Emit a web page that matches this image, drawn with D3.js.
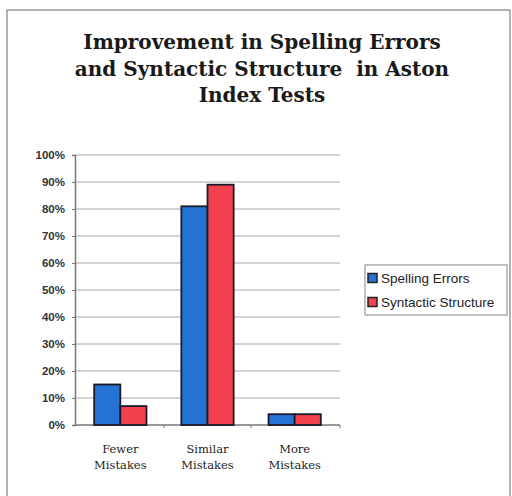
<!DOCTYPE html>
<html>
<head>
<meta charset="utf-8">
<script src="https://cdn.jsdelivr.net/npm/d3@7/dist/d3.min.js"></script>
<style>
  html, body { margin: 0; padding: 0; background: #ffffff; }
  svg { display: block; }
</style>
</head>
<body>
<script>
// Chart data
const categories = [["Fewer", "Mistakes"], ["Similar", "Mistakes"], ["More", "Mistakes"]];
const seriesNames = ["Spelling Errors", "Syntactic Structure"];
const spellingErrors = [15, 81, 4];
const syntacticStructure = [7, 89, 4];
const yTicks = [0, 10, 20, 30, 40, 50, 60, 70, 80, 90, 100];
const titleLines = ["Improvement in Spelling Errors", "and Syntactic Structure  in Aston", "Index Tests"];

const W = 512, H = 496;
const colors = ["#2673d6", "#f2404f"];

const svg = d3.select("body").append("svg").attr("width", W).attr("height", H);

// outer frame
svg.append("rect").attr("x", 7).attr("y", 10).attr("width", 503).attr("height", 500)
  .attr("fill", "none").attr("stroke", "#9a9a9a").attr("stroke-width", 1.5);

// title
svg.append("g").selectAll("text").data(titleLines).join("text")
  .attr("x", 262).attr("y", (d, i) => 49 + i * 26.5)
  .attr("text-anchor", "middle")
  .attr("font-family", "DejaVu Serif").attr("font-weight", "bold")
  .attr("font-size", 20).attr("fill", "#1a1a1a")
  .style("white-space", "pre")
  .text(d => d);

// scales
const plot = { left: 75, right: 340, top: 155, bottom: 425 };
const x0 = d3.scaleBand().domain(d3.range(categories.length))
  .range([plot.left, plot.right]).paddingInner(0.4).paddingOuter(0.22);
const x1 = d3.scaleBand().domain([0, 1]).range([0, x0.bandwidth()]);
const y = d3.scaleLinear().domain([0, 100]).range([plot.bottom, plot.top]);

// gridlines
svg.append("g").selectAll("line").data(yTicks.filter(t => t > 0)).join("line")
  .attr("x1", plot.left).attr("x2", plot.right)
  .attr("y1", d => y(d)).attr("y2", d => y(d))
  .attr("stroke", "#a8a8a8").attr("stroke-width", 1);

// y axis
const yAxis = d3.axisLeft(y).tickValues(yTicks).tickFormat(d => d + "%").tickSize(3).tickPadding(7);
const gy = svg.append("g").attr("transform", `translate(${plot.left},0)`).call(yAxis);
gy.select(".domain").attr("stroke", "#777").attr("stroke-width", 1.5);
gy.selectAll(".tick line").attr("stroke", "#777");
gy.selectAll(".tick text").attr("font-family", "Liberation Sans, Arial, sans-serif")
  .attr("font-size", 11.5).attr("font-weight", "bold").attr("fill", "#333");

// x axis baseline with category divider ticks
const gx = svg.append("g");
gx.append("line").attr("x1", plot.left).attr("x2", plot.right)
  .attr("y1", plot.bottom).attr("y2", plot.bottom)
  .attr("stroke", "#777").attr("stroke-width", 1.5);
const dividers = d3.range(1, categories.length + 1).map(i => x0(i - 1) + x0.bandwidth() + x0.step() * x0.paddingInner() / 2 + (i === categories.length ? x0.step() * (x0.paddingOuter() - x0.paddingInner() / 2) : 0));
gx.selectAll("line.div").data(dividers).join("line").attr("class", "div")
  .attr("x1", d => d).attr("x2", d => d)
  .attr("y1", plot.bottom).attr("y2", plot.bottom + 3)
  .attr("stroke", "#777");

// bars
const series = [spellingErrors, syntacticStructure];
const groups = svg.append("g").selectAll("g").data(categories).join("g")
  .attr("transform", (d, i) => `translate(${x0(i)},0)`);
groups.selectAll("rect").data((d, i) => series.map((s, k) => ({ k, v: s[i] }))).join("rect")
  .attr("x", d => x1(d.k)).attr("width", x1.bandwidth())
  .attr("y", d => y(d.v)).attr("height", d => y(0) - y(d.v))
  .attr("fill", d => colors[d.k]).attr("stroke", "#1a1a2a").attr("stroke-width", 1.8);

// category labels
const labels = svg.append("g").selectAll("text").data(categories).join("text")
  .attr("x", (d, i) => x0(i) + x0.bandwidth() / 2)
  .attr("text-anchor", "middle")
  .attr("font-family", "DejaVu Serif").attr("font-size", 11.5).attr("fill", "#222");
labels.selectAll("tspan").data(d => d).join("tspan")
  .attr("x", function () { return d3.select(this.parentNode).attr("x"); })
  .attr("y", (d, j) => 453 + j * 16)
  .text(d => d);

// legend
const lg = svg.append("g");
lg.append("rect").attr("x", 365).attr("y", 265).attr("width", 142).attr("height", 50)
  .attr("fill", "#fff").attr("stroke", "#999").attr("stroke-width", 1.2);
const items = lg.selectAll("g").data(seriesNames).join("g")
  .attr("transform", (d, i) => `translate(368,${278 + i * 24})`);
items.append("rect").attr("x", 0).attr("y", -4.5).attr("width", 9).attr("height", 9)
  .attr("fill", (d, i) => colors[i]).attr("stroke", "#222").attr("stroke-width", 1.5);
items.append("text").attr("x", 13).attr("y", 4.5)
  .attr("font-family", "Liberation Sans, Arial, sans-serif").attr("font-size", 13.5)
  .attr("fill", "#222").text(d => d);
</script>
</body>
</html>
